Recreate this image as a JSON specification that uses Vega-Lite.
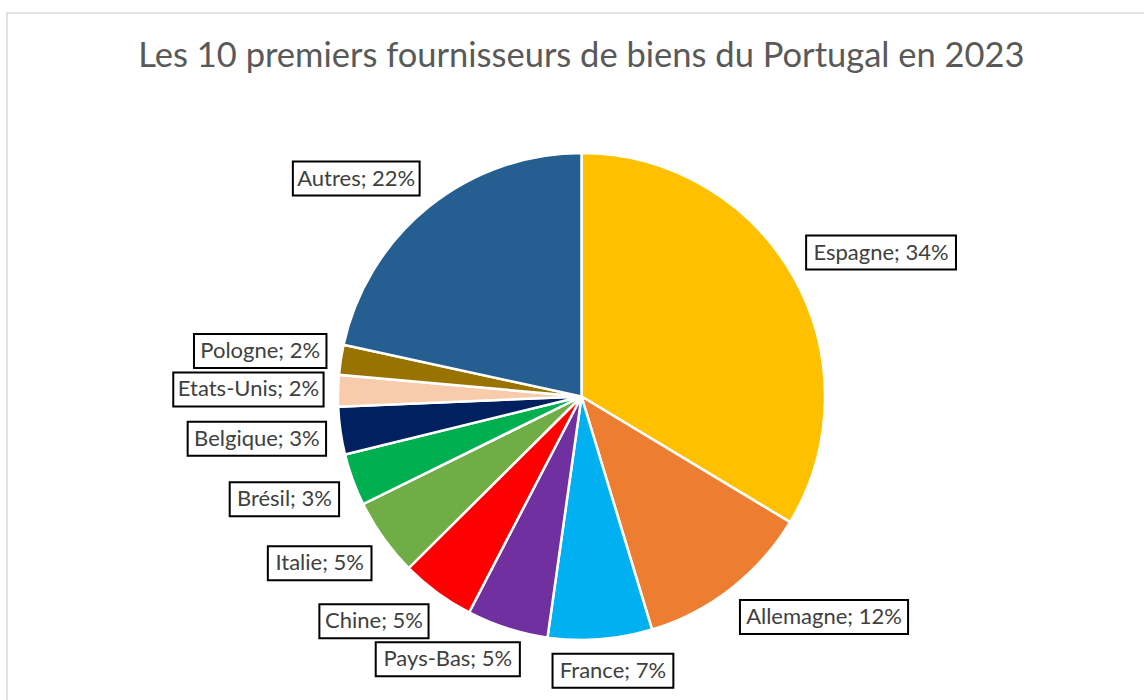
{
  "$schema": "https://vega.github.io/schema/vega-lite/v6.json",
  "autosize": "none",
  "width": 1149,
  "height": 767,
  "padding": {"left": 7, "top": 13, "right": -12, "bottom": -80},
  "background": "white",
  "config": {"view": {"stroke": null}},
  "title": {
    "text": "Les 10 premiers fournisseurs de biens du Portugal en 2023",
    "font": "Lato",
    "fontSize": 34.5,
    "fontWeight": "normal",
    "color": "#595959",
    "anchor": "middle",
    "frame": "group",
    "baseline": "alphabetic",
    "offset": 0,
    "dy": 89
  },
  "data": {
    "values": [
      {"rank": 1, "pays": "Espagne", "part": 33.63, "label": "Espagne; 34%"},
      {"rank": 2, "pays": "Allemagne", "part": 11.69, "label": "Allemagne; 12%"},
      {"rank": 3, "pays": "France", "part": 6.91, "label": "France; 7%"},
      {"rank": 4, "pays": "Pays-Bas", "part": 5.41, "label": "Pays-Bas; 5%"},
      {"rank": 5, "pays": "Chine", "part": 4.92, "label": "Chine; 5%"},
      {"rank": 6, "pays": "Italie", "part": 5.15, "label": "Italie; 5%"},
      {"rank": 7, "pays": "Brésil", "part": 3.46, "label": "Brésil; 3%"},
      {"rank": 8, "pays": "Belgique", "part": 3.16, "label": "Belgique; 3%"},
      {"rank": 9, "pays": "Etats-Unis", "part": 2.09, "label": "Etats-Unis; 2%"},
      {"rank": 10, "pays": "Pologne", "part": 1.99, "label": "Pologne; 2%"},
      {"rank": 11, "pays": "Autres", "part": 21.59, "label": "Autres; 22%"}
    ]
  },
  "transform": [
    {"stack": "part", "groupby": [], "sort": [{"field": "rank", "order": "ascending"}], "offset": "normalize", "as": ["v0", "v1"]}
  ],
  "layer": [
    {
      "transform": [{"filter": "datum.rank == 1"}],
      "mark": {"type": "rect", "fill": null, "stroke": "#d9d9d9", "strokeWidth": 1.5},
      "encoding": {}
    },
    {
      "mark": {"type": "arc", "outerRadius": 243.5, "stroke": "white", "strokeWidth": 2.5},
      "encoding": {
        "theta": {"field": "part", "type": "quantitative", "stack": true},
        "order": {"field": "rank", "type": "quantitative"},
        "color": {
          "field": "pays",
          "type": "nominal",
          "legend": null,
          "scale": {
            "domain": ["Espagne", "Allemagne", "France", "Pays-Bas", "Chine", "Italie", "Brésil", "Belgique", "Etats-Unis", "Pologne", "Autres"],
            "range": ["#FFC000", "#ED7D31", "#00B0F0", "#7030A0", "#FF0000", "#70AD47", "#00B050", "#002060", "#F8CBAD", "#997300", "#255E91"]
          }
        }
      }
    },
    {
      "mark": {
        "type": "rect",
        "fill": "white",
        "stroke": "black",
        "strokeWidth": 2,
        "x": {"expr": "width/2+258*sin(PI*(datum.v0+datum.v1))+(clamp(2.5*sin(PI*(datum.v0+datum.v1)),-1,1)-1)*(15+22*(0.53*length(datum.label)-0.26*length(replace(datum.label,regexp('[^iltrfj; I-]','g'),''))+0.29*length(replace(datum.label,regexp('[^%mMW]','g'),''))))/2"},
        "x2": {"expr": "width/2+258*sin(PI*(datum.v0+datum.v1))+(clamp(2.5*sin(PI*(datum.v0+datum.v1)),-1,1)+1)*(15+22*(0.53*length(datum.label)-0.26*length(replace(datum.label,regexp('[^iltrfj; I-]','g'),''))+0.29*length(replace(datum.label,regexp('[^%mMW]','g'),''))))/2"},
        "y": {"expr": "height/2-258*cos(PI*(datum.v0+datum.v1))+(clamp(-2.5*cos(PI*(datum.v0+datum.v1)),-1,1)-1)*17"},
        "y2": {"expr": "height/2-258*cos(PI*(datum.v0+datum.v1))+(clamp(-2.5*cos(PI*(datum.v0+datum.v1)),-1,1)+1)*17"}
      },
      "encoding": {}
    },
    {
      "mark": {
        "type": "text",
        "font": "Lato",
        "fontSize": 22,
        "fill": "#404040",
        "align": "center",
        "baseline": "middle",
        "x": {"expr": "width/2+258*sin(PI*(datum.v0+datum.v1))+clamp(2.5*sin(PI*(datum.v0+datum.v1)),-1,1)*(15+22*(0.53*length(datum.label)-0.26*length(replace(datum.label,regexp('[^iltrfj; I-]','g'),''))+0.29*length(replace(datum.label,regexp('[^%mMW]','g'),''))))/2"},
        "y": {"expr": "height/2-258*cos(PI*(datum.v0+datum.v1))+clamp(-2.5*cos(PI*(datum.v0+datum.v1)),-1,1)*17"}
      },
      "encoding": {"text": {"field": "label", "type": "nominal"}}
    }
  ]
}
